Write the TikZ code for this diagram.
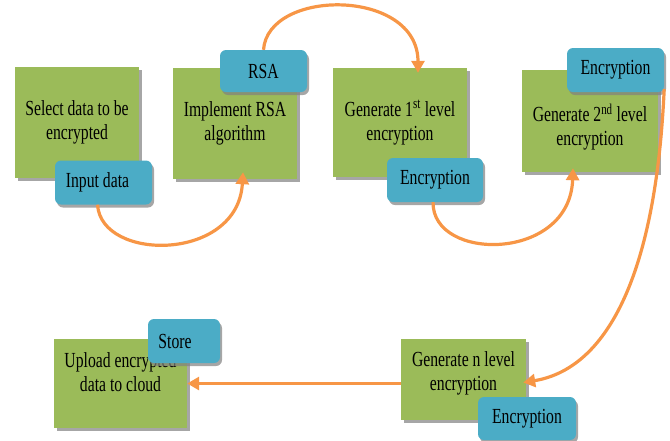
\documentclass[tikz,border=0pt]{standalone}
\usepackage{fontspec}
\setmainfont{Liberation Serif}[FakeStretch=0.73]
\usepackage{tikz}
\usetikzlibrary{arrows.meta,shadows,positioning}
\definecolor{boxgreen}{RGB}{155,187,89}
\definecolor{tagblue}{RGB}{75,172,198}
\definecolor{linkorange}{RGB}{247,150,70}
\tikzstyle{box} = [rectangle, fill=boxgreen, align=center, drop shadow={shadow xshift=3pt, shadow yshift=-3pt, fill=black!50, opacity=0.7}]
\tikzstyle{tag} = [rectangle, rounded corners=6pt, fill=tagblue, align=center, minimum height=44pt, drop shadow={shadow xshift=2pt, shadow yshift=-3pt, fill=black!50, opacity=0.7}]
\tikzstyle{arrow} = [line width=3.2pt, draw=linkorange, -{Triangle[length=12pt,width=13pt]}]

\begin{document}
\begin{tikzpicture}[x=1pt, y=-1pt, font=\fontsize{21.5}{24}\selectfont]
                    \useasboundingbox (0,0) rectangle (670,440);
                    % process steps
                    \node (sel) [box, minimum width=124pt, minimum height=111pt] at (77,122.5) {Select data to be\\encrypted};
                    \node (impl) [box, minimum width=124pt, minimum height=111pt] at (235,123.5) {Implement RSA\\algorithm};
                    \node (gen1) [box, minimum width=134pt, minimum height=109pt] at (400,122.5) {Generate 1\textsuperscript{st} level\\encryption};
                    \node (gen2) [box, minimum width=136pt, minimum height=102pt, text height=54pt] at (590,121) {Generate 2\textsuperscript{nd} level\\encryption};
                    \node (genn) [box, minimum width=125pt, minimum height=81pt, text depth=16pt] at (463.5,379.5) {Generate n level\\encryption};
                    \node (upl) [box, minimum width=133pt, minimum height=89pt, text depth=22pt] at (120.5,383.5) {Upload encrypted\\data to cloud};
                    % labels on the steps
                    \node (inp) [tag, minimum width=97pt] at (103.5,182.5) {Input data\hspace*{12pt}};
                    \node (rsa) [tag, minimum width=87pt, minimum height=42pt] at (263.5,71) {RSA};
                    \node (enc1) [tag, minimum width=96pt] at (435,180) {Encryption};
                    \node (enc2) [tag, minimum width=97pt] at (615.5,70) {Encryption};
                    \node (encn) [tag, minimum width=98pt, minimum height=43pt] at (527,418.5) {Encryption};
                    \node (store) [tag, minimum width=72pt] at (184,341) {Store\hspace*{18pt}};
                    % links
                    \draw [arrow] (inp.255) .. controls (101,262) and (238,262) .. ([xshift=8pt,yshift=7pt]impl.south);
                    \draw [arrow] (rsa.north) .. controls (268,-12) and (418,-12) .. ([xshift=18pt,yshift=-5pt]gen1.north);
                    \draw [arrow] (enc1.265) .. controls (432,262) and (570,262) .. ([xshift=-17pt,yshift=4pt]gen2.south);
                    \draw [arrow] ([yshift=3pt]enc2.south east) .. controls (655,290) and (600,370) .. ([xshift=-3pt,yshift=-3pt]genn.east);
                    \draw [arrow] (genn.west |- upl.east) -- (upl.east);
                \end{tikzpicture}
\end{document}
